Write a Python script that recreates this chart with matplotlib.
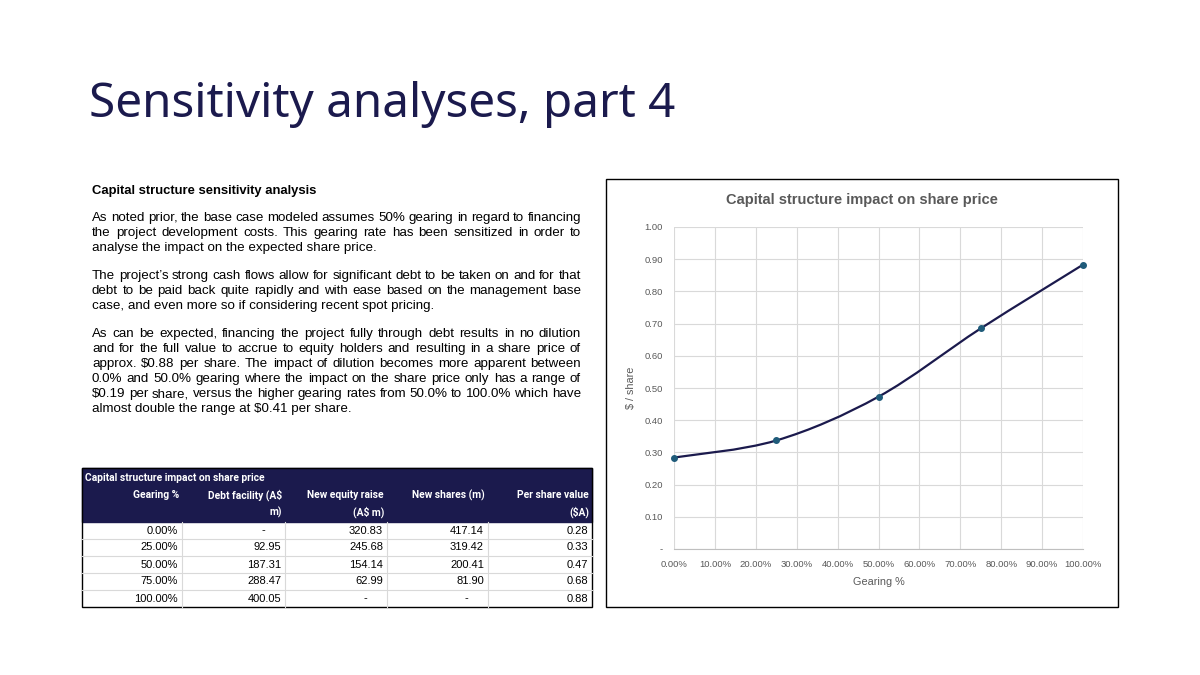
"""Slide: sensitivity analyses, part 4 (capital structure vs share price)."""
import matplotlib

matplotlib.use("Agg")
import matplotlib.pyplot as plt
from matplotlib.patches import Rectangle, PathPatch
from matplotlib.path import Path
from matplotlib.ticker import FixedLocator


NAVY = "#1b1a4d"
GREY_TEXT = "#595959"
GRID = "#d9d9d9"
MARKER = "#1f5b7a"
FONT = "Liberation Sans"
TITLE_FONT = "Noto Sans"

# chart data
gearing_pct = [0, 25, 50, 75, 100]
share_value = [0.284, 0.337, 0.473, 0.685, 0.883]
x_ticks = [0, 10, 20, 30, 40, 50, 60, 70, 80, 90, 100]
y_ticks = [0.0, 0.1, 0.2, 0.3, 0.4, 0.5, 0.6, 0.7, 0.8, 0.9, 1.0]

# table data
table_title = "Capital structure impact on share price"
table_headers = [
    ["Gearing %"],
    ["Debt facility (A$", "m)"],
    ["New equity raise", "(A$ m)"],
    ["New shares (m)"],
    ["Per share value", "($A)"],
]
gearing_col = [0.0, 25.0, 50.0, 75.0, 100.0]
debt_facility = [None, 92.95, 187.31, 288.47, 400.05]
equity_raise = [320.83, 245.68, 154.14, 62.99, None]
new_shares = [417.14, 319.42, 200.41, 81.90, None]
per_share = [0.28, 0.33, 0.47, 0.68, 0.88]

heading = "Capital structure sensitivity analysis"
paragraphs = [
    [
        "As noted prior, the base case modeled assumes 50% gearing in regard to financing",
        "the project development costs. This gearing rate has been sensitized in order to",
        "analyse the impact on the expected share price.",
    ],
    [
        "The project\u2019s strong cash flows allow for significant debt to be taken on and for that",
        "debt to be paid back quite rapidly and with ease based on the management base",
        "case, and even more so if considering recent spot pricing.",
    ],
    [
        "As can be expected, financing the project fully through debt results in no dilution",
        "and for the full value to accrue to equity holders and resulting in a share price of",
        "approx. $0.88 per share. The impact of dilution becomes more apparent between",
        "0.0% and 50.0% gearing where the impact on the share price only has a range of",
        "$0.19 per share, versus the higher gearing rates from 50.0% to 100.0% which have",
        "almost double the range at $0.41 per share.",
    ],
]

W, H = 1200, 675


def fx(x):
    return x / W


def fy(y):
    return 1 - y / H


def put(fig, x, y, s, **kw):
    kw.setdefault("family", FONT)
    return fig.text(fx(x), fy(y), s, parse_math=False, **kw)


def justified_line(fig, renderer, line, x0, x1, y, size):
    words = line.split(" ")
    texts = [put(fig, x0, y, w, fontsize=size, va="baseline") for w in words]
    widths = [t.get_window_extent(renderer).width for t in texts]
    gap = (x1 - x0 - sum(widths)) / max(len(words) - 1, 1)
    x = x0
    for t, w in zip(texts, widths):
        t.set_x(fx(x))
        x += w + gap


def smooth_path(xs, ys):
    # Excel-style smoothed line: cubic Bezier through each point
    pts = list(zip(xs, ys))
    ext = [pts[0]] + pts + [pts[-1]]
    verts = [pts[0]]
    codes = [Path.MOVETO]
    for i in range(1, len(ext) - 2):
        p0, p1, p2, p3 = ext[i - 1], ext[i], ext[i + 1], ext[i + 2]
        c1 = (p1[0] + (p2[0] - p0[0]) / 6, p1[1] + (p2[1] - p0[1]) / 6)
        c2 = (p2[0] - (p3[0] - p1[0]) / 6, p2[1] - (p3[1] - p1[1]) / 6)
        verts += [c1, c2, p2]
        codes += [Path.CURVE4] * 3
    return Path(verts, codes)


def fmt_num(v):
    return "-" if v is None else f"{v:,.2f}"


fig = plt.figure(figsize=(12, 6.75), dpi=100)
renderer = fig.canvas.get_renderer()

# slide title
put(fig, 89, 117, "Sensitivity analyses, part 4", fontsize=34.3, color=NAVY,
    va="baseline", family=TITLE_FONT)

# body text
body_size = 9.6
put(fig, 92, 194, heading, fontsize=9.4, weight="bold", va="baseline")
line_y = 221
for para in paragraphs:
    for i, line in enumerate(para):
        if i < len(para) - 1:
            justified_line(fig, renderer, line, 92, 581, line_y, body_size)
        else:
            put(fig, 92, line_y, line, fontsize=body_size, va="baseline")
        line_y += 15
    line_y += 13

# table
tx0, tx1, ty0, ty1 = 82, 592, 468, 607
col_edges = [82, 182, 285, 387, 488, 592]
head_bottom = 522
row_h = 17
fig.patches.append(Rectangle((fx(tx0), fy(head_bottom)), fx(tx1 - tx0),
                             (head_bottom - ty0) / H, color=NAVY,
                             transform=fig.transFigure))
put(fig, 85, 478, table_title, fontsize=7.4, weight="bold", color="white",
    va="center", family="Roboto")
for c, lines in enumerate(table_headers):
    for k, s in enumerate(lines):
        put(fig, col_edges[c + 1] - 3, 495 + k * 17, s, fontsize=7.4,
            weight="bold", color="white", va="center", ha="right",
            family="Roboto")

columns = [
    [f"{g:.2f}%" for g in gearing_col],
    [fmt_num(v) for v in debt_facility],
    [fmt_num(v) for v in equity_raise],
    [fmt_num(v) for v in new_shares],
    [fmt_num(v) for v in per_share],
]
for r in range(len(gearing_col)):
    yc = head_bottom + row_h * r + row_h / 2
    if r > 0:
        fig.add_artist(plt.Line2D([fx(tx0), fx(tx1)],
                                  [fy(yc - row_h / 2)] * 2,
                                  color=GRID, lw=0.8))
    for c, col in enumerate(columns):
        s = col[r]
        right = col_edges[c + 1] - 4
        if s == "-":
            right -= 16
        put(fig, right, yc, s, fontsize=8, va="center", ha="right")
for xe in col_edges[1:-1]:
    fig.add_artist(plt.Line2D([fx(xe)] * 2, [fy(head_bottom), fy(ty1)],
                              color=GRID, lw=0.8))
fig.patches.append(Rectangle((fx(tx0), fy(ty1)), fx(tx1 - tx0),
                             (ty1 - ty0) / H, fill=False, ec="black", lw=1,
                             transform=fig.transFigure))

# chart frame
fig.patches.append(Rectangle((fx(606), fy(607)), fx(1118 - 606),
                             (607 - 179) / H, fill=False, ec="black", lw=1,
                             transform=fig.transFigure))
put(fig, 862, 200, "Capital structure impact on share price", fontsize=10.5,
    weight="bold", color=GREY_TEXT, ha="center", va="center")

ax = fig.add_axes([fx(674), fy(549), fx(1083 - 674), (549 - 227) / H])
ax.set_xlim(0, 100)
ax.set_ylim(0, 1)
ax.xaxis.set_major_locator(FixedLocator(x_ticks))
ax.yaxis.set_major_locator(FixedLocator(y_ticks))
ax.set_xticklabels([f"{t:.2f}%" for t in x_ticks])
ax.set_yticklabels(["-" if t == 0 else f"{t:.2f}" for t in y_ticks])
ax.grid(True, color=GRID, lw=0.8)
ax.set_axisbelow(True)
for side in ["top", "right", "left"]:
    ax.spines[side].set_visible(False)
ax.spines["bottom"].set_color("#bfbfbf")
ax.tick_params(length=0, labelsize=6.8, labelcolor=GREY_TEXT, pad=8)
for lbl in ax.get_xticklabels() + ax.get_yticklabels():
    lbl.set_family(FONT)
ax.set_xlabel("Gearing %", fontsize=7.8, color=GREY_TEXT, family=FONT,
              labelpad=6)
ax.set_ylabel("$ / share", fontsize=7.8, color=GREY_TEXT, family=FONT,
              labelpad=6)

ax.add_patch(PathPatch(smooth_path(gearing_pct, share_value), fill=False,
                       ec=NAVY, lw=1.6, zorder=3))
ax.plot(gearing_pct, share_value, "o", color=MARKER, ms=4, zorder=4,
        clip_on=False)

fig.savefig("out.png", dpi=100)
